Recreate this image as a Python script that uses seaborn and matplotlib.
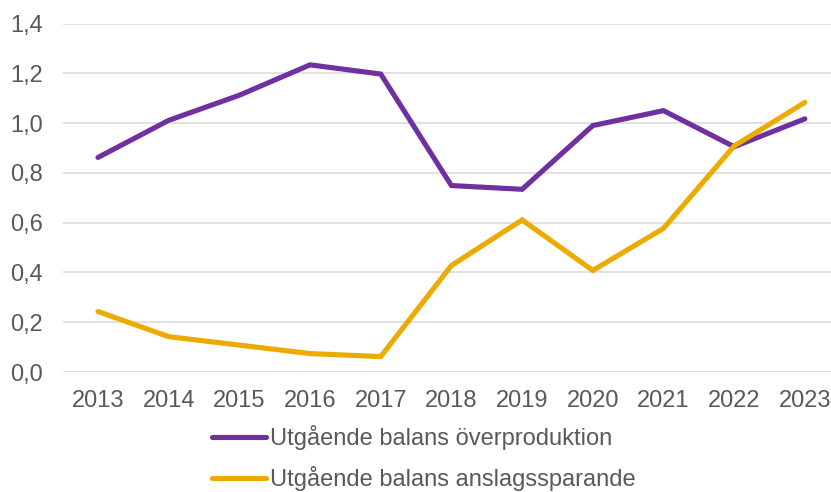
import pandas as pd
import matplotlib.pyplot as plt
import seaborn as sns
from matplotlib.ticker import FuncFormatter

# Values
years = ['2013', '2014', '2015', '2016', '2017', '2018', '2019', '2020', '2021', '2022', '2023']
overproduktion = [0.862, 1.011, 1.112, 1.234, 1.197, 0.749, 0.734, 0.990, 1.050, 0.905, 1.017]
anslagssparande = [0.243, 0.142, 0.108, 0.074, 0.062, 0.428, 0.611, 0.408, 0.577, 0.908, 1.083]
series_names = ['Utgående balans överproduktion', 'Utgående balans anslagssparande']
colors = ['#7030A0', '#EBAB00']

df = pd.concat([
    pd.DataFrame({'År': years, 'Värde': overproduktion, 'Serie': series_names[0]}),
    pd.DataFrame({'År': years, 'Värde': anslagssparande, 'Serie': series_names[1]}),
])

sns.set_style('white')
plt.rcParams['font.family'] = ['Liberation Sans', 'DejaVu Sans']
text_color = '#595959'

fig = plt.figure(figsize=(8.31, 4.92), dpi=100)
ax = fig.add_axes([0.0754, 0.2439, 1 - 0.0754, 0.7083])

sns.lineplot(data=df, x='År', y='Värde', hue='Serie', palette=colors,
             linewidth=3.7, legend=False, ax=ax, sort=False)
for line in ax.lines:
    line.set_solid_capstyle('round')
    line.set_solid_joinstyle('miter')

ax.set_xlim(-0.5, 10.37)
ax.set_ylim(0, 1.4)
ax.set_yticks([0, 0.2, 0.4, 0.6, 0.8, 1.0, 1.2, 1.4])
ax.yaxis.set_major_formatter(FuncFormatter(lambda v, p: f'{v:.1f}'.replace('.', ',')))
ax.grid(axis='y', color='#D9D9D9', linewidth=1.1)
ax.grid(axis='x', visible=False)
ax.set_axisbelow(True)
for s in ax.spines.values():
    s.set_visible(False)
ax.set_xlabel('')
ax.set_ylabel('')
ax.tick_params(axis='both', length=0, labelsize=17, labelcolor=text_color)
ax.tick_params(axis='y', pad=14.5)
ax.tick_params(axis='x', pad=13)

fig.legend(ax.lines, series_names, loc='center left',
           bbox_to_anchor=(212 / 831, 0.069), frameon=False,
           fontsize=17, labelcolor=text_color, borderpad=0, borderaxespad=0,
           handlelength=2.3, handletextpad=0.17, labelspacing=0.7)

fig.savefig('out.png', dpi=100)
